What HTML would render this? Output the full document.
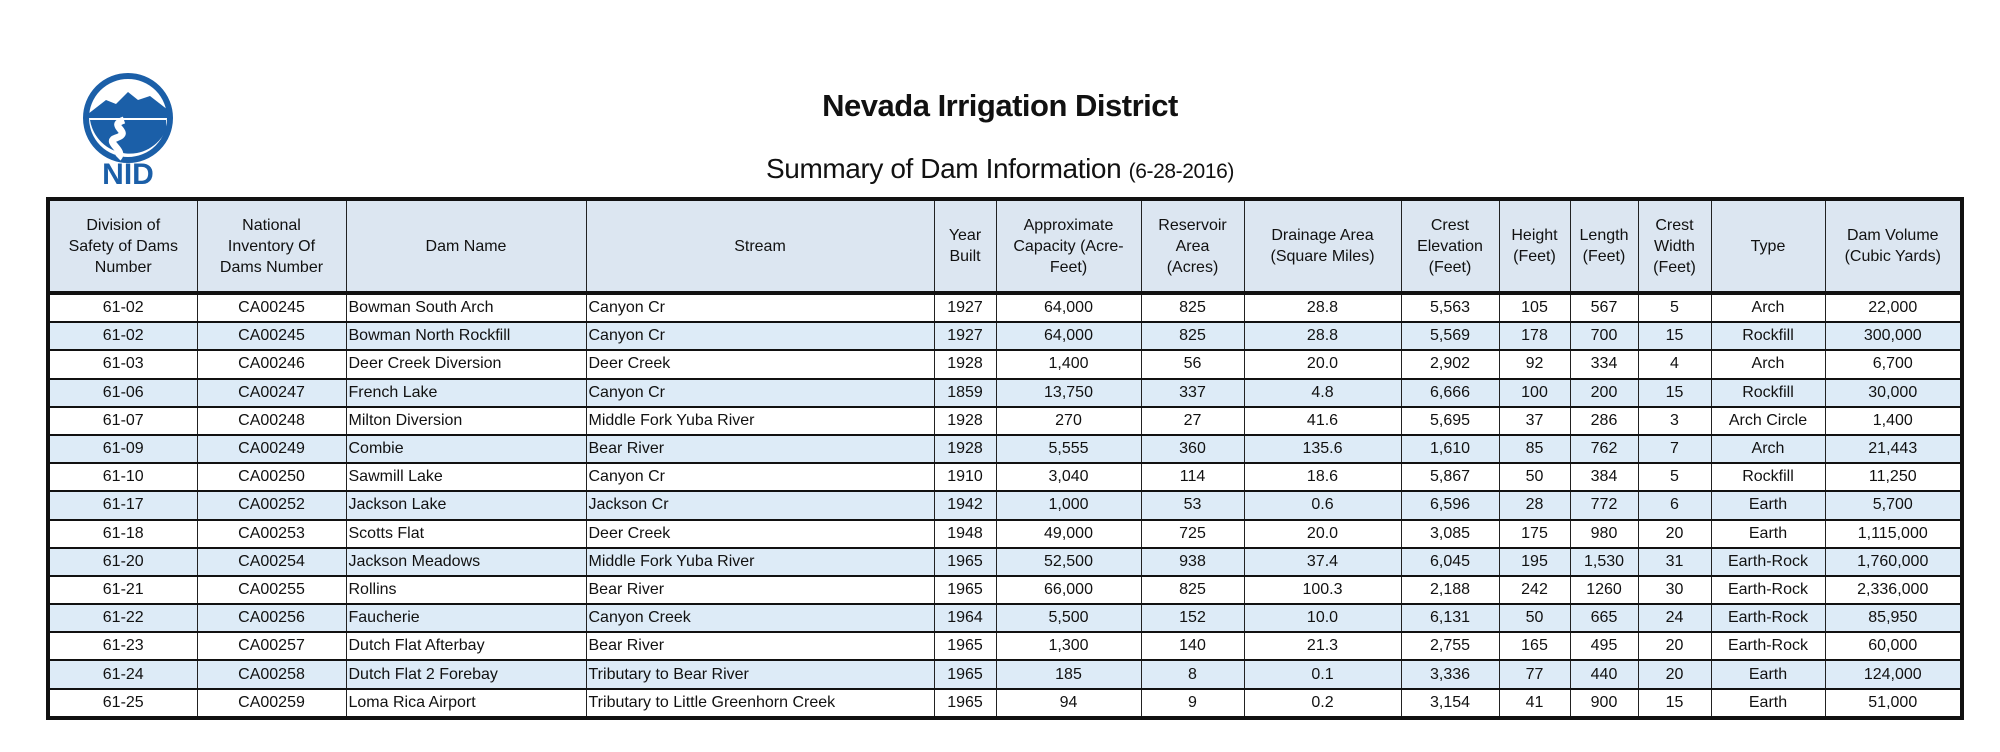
<!DOCTYPE html>
<html><head><meta charset="utf-8">
<style>
body{margin:0;width:2000px;height:752px;background:#fff;font-family:"Liberation Sans",sans-serif;position:relative;overflow:hidden}
#t1{position:absolute;left:0;width:2000px;top:88px;text-align:center;font-weight:bold;font-size:31px;color:#111;letter-spacing:-0.5px}
#t2{position:absolute;left:0;width:2000px;top:153px;text-align:center;font-size:28px;color:#111;letter-spacing:-0.4px}
#t2 span{font-size:21px}
table{position:absolute;left:46px;top:197px;border-collapse:collapse;table-layout:fixed;border:4px solid #111;font-size:16px;color:#111}
td,th{border-left:1.5px solid #222;border-right:1.5px solid #222;padding:0 2px;white-space:nowrap;overflow:hidden;text-align:center;font-weight:normal}
th{background:#dce6f1;height:90px;line-height:21px;border-bottom:4px solid #111;font-size:16px}
td{height:26.2px;line-height:26px;border-bottom:2.5px solid #111}
tr.b td{background:#ddebf7}
td.l{text-align:left}
</style></head><body>
<svg style="position:absolute;left:76px;top:70px" width="110" height="125" viewBox="0 0 110 125">
<circle cx="52" cy="48" r="42" fill="#fff" stroke="#1b5fa8" stroke-width="6"/>
<path d="M12 44 L30 30 L40 34 L52 22 L62 30 L74 26 L92 40 L92 48 L12 48Z" fill="#1b5fa8"/>
<path d="M14 50 A40 40 0 0 0 90 60 L90 50 Z" fill="#1b5fa8"/>
<path d="M48 50 C30 56 58 62 40 68 C28 72 50 80 42 88" stroke="#fff" stroke-width="7" fill="none"/>
<text x="52" y="114" text-anchor="middle" font-family="Liberation Sans" font-weight="bold" font-size="30" fill="#1b5fa8">NID</text>
</svg>
<div id="t1">Nevada Irrigation District</div>
<div id="t2">Summary of Dam Information <span>(6-28-2016)</span></div>
<table>
<colgroup><col style="width:149px"><col style="width:149px"><col style="width:240px"><col style="width:348px"><col style="width:62px"><col style="width:145px"><col style="width:103px"><col style="width:157px"><col style="width:98px"><col style="width:71px"><col style="width:68px"><col style="width:73px"><col style="width:114px"><col style="width:137px"></colgroup>
<thead><tr>
<th>Division of<br>Safety of Dams<br>Number</th><th>National<br>Inventory Of<br>Dams Number</th><th>Dam Name</th><th>Stream</th><th>Year<br>Built</th><th>Approximate<br>Capacity (Acre-<br>Feet)</th><th>Reservoir<br>Area<br>(Acres)</th><th>Drainage Area<br>(Square Miles)</th><th>Crest<br>Elevation<br>(Feet)</th><th>Height<br>(Feet)</th><th>Length<br>(Feet)</th><th>Crest<br>Width<br>(Feet)</th><th>Type</th><th>Dam Volume<br>(Cubic Yards)</th>
</tr></thead>
<tbody id="tb"></tbody>
</table>
<script>
const rows=[
["61-02","CA00245","Bowman South Arch","Canyon Cr","1927","64,000","825","28.8","5,563","105","567","5","Arch","22,000"],
["61-02","CA00245","Bowman North Rockfill","Canyon Cr","1927","64,000","825","28.8","5,569","178","700","15","Rockfill","300,000"],
["61-03","CA00246","Deer Creek Diversion","Deer Creek","1928","1,400","56","20.0","2,902","92","334","4","Arch","6,700"],
["61-06","CA00247","French Lake","Canyon Cr","1859","13,750","337","4.8","6,666","100","200","15","Rockfill","30,000"],
["61-07","CA00248","Milton Diversion","Middle Fork Yuba River","1928","270","27","41.6","5,695","37","286","3","Arch Circle","1,400"],
["61-09","CA00249","Combie","Bear River","1928","5,555","360","135.6","1,610","85","762","7","Arch","21,443"],
["61-10","CA00250","Sawmill Lake","Canyon Cr","1910","3,040","114","18.6","5,867","50","384","5","Rockfill","11,250"],
["61-17","CA00252","Jackson Lake","Jackson Cr","1942","1,000","53","0.6","6,596","28","772","6","Earth","5,700"],
["61-18","CA00253","Scotts Flat","Deer Creek","1948","49,000","725","20.0","3,085","175","980","20","Earth","1,115,000"],
["61-20","CA00254","Jackson Meadows","Middle Fork Yuba River","1965","52,500","938","37.4","6,045","195","1,530","31","Earth-Rock","1,760,000"],
["61-21","CA00255","Rollins","Bear River","1965","66,000","825","100.3","2,188","242","1260","30","Earth-Rock","2,336,000"],
["61-22","CA00256","Faucherie","Canyon Creek","1964","5,500","152","10.0","6,131","50","665","24","Earth-Rock","85,950"],
["61-23","CA00257","Dutch Flat Afterbay","Bear River","1965","1,300","140","21.3","2,755","165","495","20","Earth-Rock","60,000"],
["61-24","CA00258","Dutch Flat 2 Forebay","Tributary to Bear River","1965","185","8","0.1","3,336","77","440","20","Earth","124,000"],
["61-25","CA00259","Loma Rica Airport","Tributary to Little Greenhorn Creek","1965","94","9","0.2","3,154","41","900","15","Earth","51,000"]];
const tb=document.getElementById('tb');
rows.forEach((r,i)=>{
 const tr=document.createElement('tr');
 
 
 if(i%2)tr.className='b';
 r.forEach((v,j)=>{const td=document.createElement('td');td.textContent=v;if(j==2||j==3)td.className='l';tr.appendChild(td);});
 tb.appendChild(tr);
});
</script>
</body></html>
